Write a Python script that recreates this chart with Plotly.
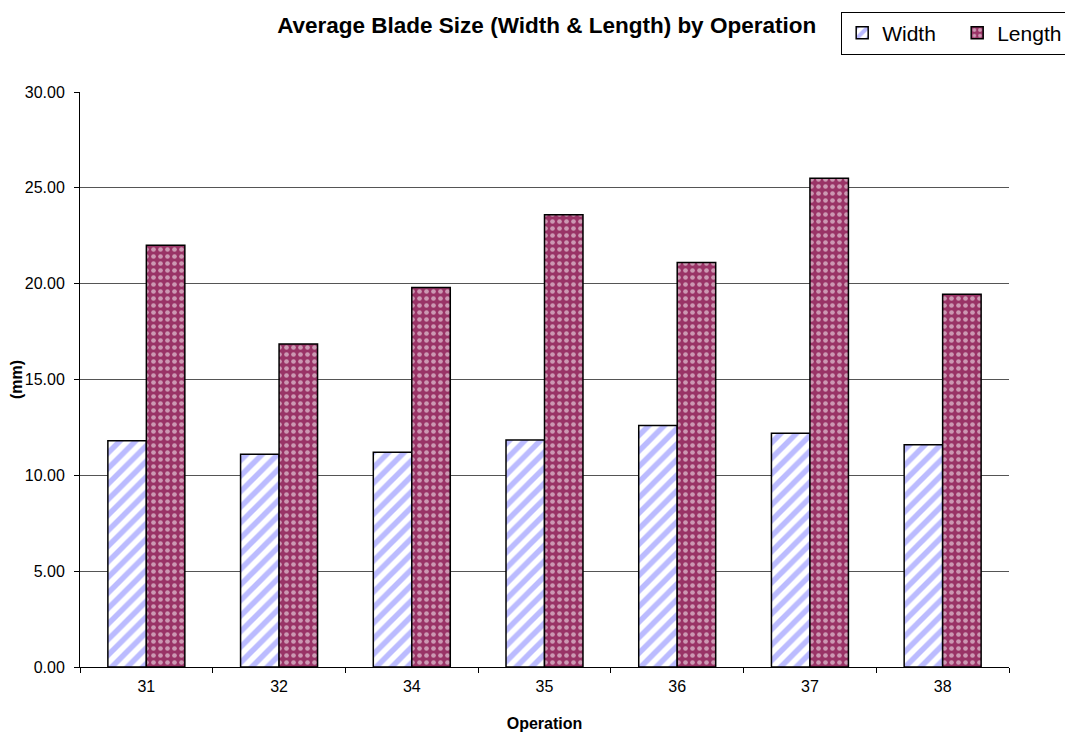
import plotly.graph_objects as go

operations = ["31", "32", "34", "35", "36", "37", "38"]
width_mm = [11.8, 11.1, 11.2, 11.85, 12.6, 12.2, 11.6]
length_mm = [22.0, 16.85, 19.8, 23.6, 21.1, 25.5, 19.45]
y_ticks = [0, 5, 10, 15, 20, 25, 30]
y_tick_labels = ["0.00", "5.00", "10.00", "15.00", "20.00", "25.00", "30.00"]

FONT = "Liberation Sans, Arial, sans-serif"

fig = go.Figure()
fig.add_trace(go.Bar(
    name="Width", x=operations, y=width_mm,
    marker=dict(color="white", line=dict(color="black", width=1.5),
                pattern=dict(shape="/", fgcolor="#7777ff", bgcolor="white",
                             size=11, solidity=0.5, fillmode="overlay")),
))
fig.add_trace(go.Bar(
    name="Length", x=operations, y=length_mm,
    marker=dict(color="#993366", line=dict(color="black", width=1.5),
                pattern=dict(shape=".", fgcolor="white", bgcolor="#993366",
                             size=7, solidity=0.35, fillmode="overlay")),
))

fig.update_layout(
    width=1073, height=734,
    paper_bgcolor="white", plot_bgcolor="white",
    font=dict(family=FONT, size=16, color="black"),
    margin=dict(l=72, r=72, t=84, b=75, autoexpand=False),
    bargap=0.42, bargroupgap=0,
    barmode="group",
    title=dict(text="<b>Average Blade Size (Width & Length) by Operation</b>",
               x=0.502, xanchor="center", xref="container",
               y=0.976, yanchor="middle", yref="container",
               font=dict(size=22.5)),
    legend=dict(orientation="h", x=0.7765, xanchor="left", y=0.995, yanchor="top",
                xref="container", yref="container",
                bordercolor="black", borderwidth=1, bgcolor="white",
                font=dict(size=21), traceorder="normal",
                itemwidth=30, entrywidth=70, valign="middle"),
    showlegend=True,
)
fig.update_xaxes(
    showline=True, linecolor="black", linewidth=1,
    ticks="outside", tickson="boundaries", ticklen=5, tickcolor="black",
    ticklabelstandoff=5,
    title=dict(text="<b>Operation</b>", font=dict(size=16), standoff=23),
    type="category", automargin=False,
)
fig.update_yaxes(
    range=[0, 30], tickvals=y_ticks, ticktext=y_tick_labels,
    showline=True, linecolor="black", linewidth=1,
    ticks="outside", ticklen=5, tickcolor="black",
    ticklabelstandoff=6,
    showgrid=True, gridcolor="#555555", gridwidth=1,
    title=dict(text="<b>(mm)</b>", font=dict(size=16), standoff=4),
    automargin=False,
)

fig.write_html("out.html")
